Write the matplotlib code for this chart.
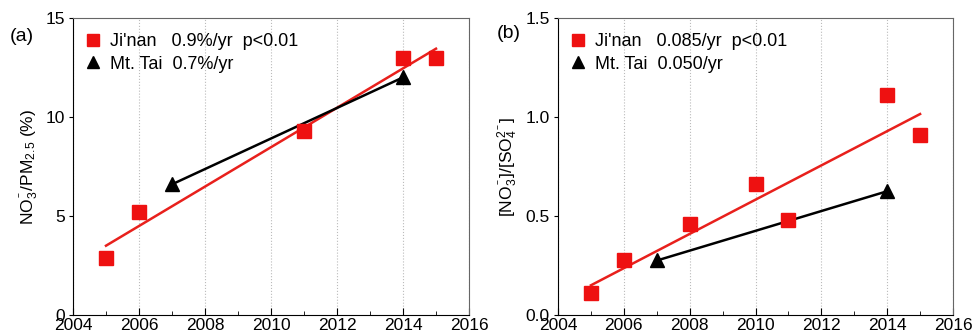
import matplotlib.pyplot as plt

plt.rcParams['font.family'] = ['Liberation Sans', 'DejaVu Sans']
plt.rcParams['mathtext.fontset'] = 'custom'
plt.rcParams['mathtext.rm'] = 'Liberation Sans'
plt.rcParams['mathtext.it'] = 'Liberation Sans'

# Panel (a): NO3-/PM2.5 (%)
jinan_years_a = [2005, 2006, 2011, 2014, 2015]
jinan_vals_a = [2.9, 5.2, 9.3, 13.0, 13.0]
tai_years_a = [2007, 2014]
tai_vals_a = [6.6, 12.0]
jinan_fit_x_a = [2005, 2015]
jinan_fit_y_a = [3.5, 13.45]
tai_fit_x_a = [2007, 2014]
tai_fit_y_a = [6.6, 12.0]

# Panel (b): [NO3-]/[SO4 2-]
jinan_years_b = [2005, 2006, 2008, 2010, 2011, 2014, 2015]
jinan_vals_b = [0.11, 0.28, 0.46, 0.66, 0.48, 1.11, 0.91]
tai_years_b = [2007, 2014]
tai_vals_b = [0.28, 0.625]
jinan_fit_x_b = [2005, 2015]
jinan_fit_y_b = [0.15, 1.015]
tai_fit_x_b = [2007, 2014]
tai_fit_y_b = [0.275, 0.625]

fig = plt.figure(figsize=(9.73, 3.36), dpi=100)
ax1 = fig.add_axes([73 / 973, 21 / 336, 396 / 973, 297 / 336])
ax2 = fig.add_axes([558 / 973, 21 / 336, 395 / 973, 297 / 336])


def draw_panel(ax, jx, jy, tx, ty, jfx, jfy, tfx, tfy, labels, ylim, yticks, yfmt):
    ax.plot(jfx, jfy, color='#e8201c', lw=1.8, zorder=2)
    ax.plot(tfx, tfy, color='black', lw=1.8, zorder=2)
    ax.plot(jx, jy, 's', color='#ee1111', ms=9.5, ls='none', label=labels[0], zorder=3)
    ax.plot(tx, ty, '^', color='black', ms=9.5, ls='none', label=labels[1], zorder=3)
    ax.set_xlim(2004, 2016)
    ax.set_ylim(*ylim)
    ax.set_xticks(range(2004, 2017, 2))
    ax.set_xticks(range(2005, 2016, 2), minor=True)
    ax.set_yticks(yticks)
    ax.set_yticklabels([yfmt.format(v) for v in yticks])
    ax.grid(axis='x', which='major', color='#bbbbbb', ls=':', lw=0.8)
    ax.tick_params(axis='x', which='major', direction='in', length=5, labelsize=12.5, pad=2.5)
    ax.tick_params(axis='x', which='minor', direction='in', length=3)
    ax.tick_params(axis='y', direction='out', length=3, labelsize=12.5, pad=3)
    for side in ['top', 'right']:
        ax.spines[side].set_color('#666666')
    ax.legend(loc='upper left', frameon=False, fontsize=13, handletextpad=0.45,
              handlelength=1.0, borderaxespad=0.2, labelspacing=0.3,
              bbox_to_anchor=(0.0, 0.985), markerscale=0.9)


draw_panel(ax1, jinan_years_a, jinan_vals_a, tai_years_a, tai_vals_a,
           jinan_fit_x_a, jinan_fit_y_a, tai_fit_x_a, tai_fit_y_a,
           ["Ji'nan   0.9%/yr  p<0.01", "Mt. Tai  0.7%/yr"],
           (0, 15), [0, 5, 10, 15], '{:g}')
ax1.set_ylabel('NO$_3^{^-}$/PM$_{2.5}$ (%)', fontsize=12.5, labelpad=4)

draw_panel(ax2, jinan_years_b, jinan_vals_b, tai_years_b, tai_vals_b,
           jinan_fit_x_b, jinan_fit_y_b, tai_fit_x_b, tai_fit_y_b,
           ["Ji'nan   0.085/yr  p<0.01", "Mt. Tai  0.050/yr"],
           (0, 1.5), [0, 0.5, 1.0, 1.5], '{:.1f}')
ax2.set_ylabel('[NO$_3^{^-}$]/[SO$_4^{2^-}$]', fontsize=12.5, labelpad=4)

fig.text(10 / 973, 1 - 41 / 336, '(a)', fontsize=14)
fig.text(497 / 973, 1 - 38 / 336, '(b)', fontsize=14)

fig.savefig('out.png', dpi=100)
